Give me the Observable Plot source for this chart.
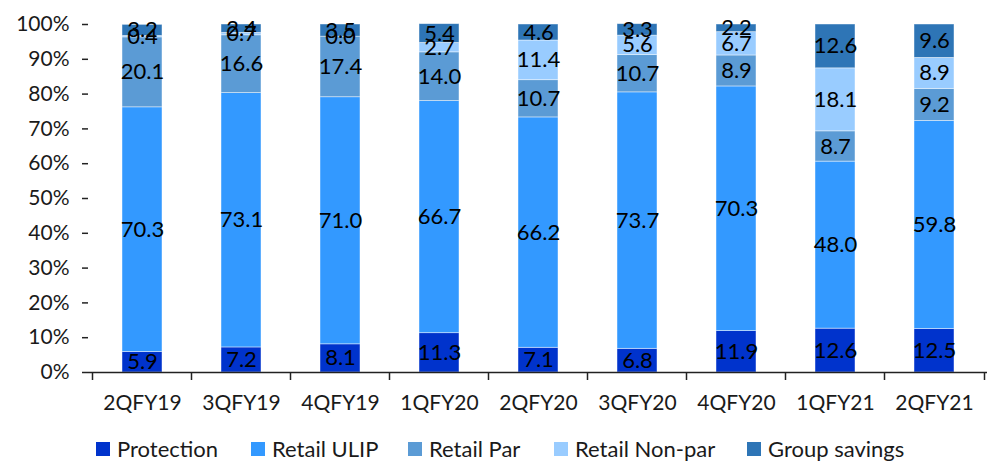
<!DOCTYPE html>
<html>
<head>
<meta charset="utf-8">
<script src="https://cdn.jsdelivr.net/npm/d3@7"></script>
<script src="https://cdn.jsdelivr.net/npm/@observablehq/plot@0.6"></script>
<style>
  body { margin: 0; background: #fff; font-family: Lato, "Open Sans", sans-serif; }
  #chart svg { display: block; }
  .legend { display: flex; margin: 11px 0 0 96px; font-size: 22px; color: #1a1a1a; line-height: 26px; }
  .legend .item { display: flex; align-items: center; }
  .legend .sw { width: 14px; height: 14px; margin-right: 7px; }
</style>
</head>
<body>
<div id="chart"></div>
<div class="legend" id="legend"></div>
<script>
// Quarterly product mix (% of APE)
const quarters = ["2QFY19", "3QFY19", "4QFY19", "1QFY20", "2QFY20", "3QFY20", "4QFY20", "1QFY21", "2QFY21"];
const seriesNames = ["Protection", "Retail ULIP", "Retail Par", "Retail Non-par", "Group savings"];
const protection   = [5.9, 7.2, 8.1, 11.3, 7.1, 6.8, 11.9, 12.6, 12.5];
const retailUlip   = [70.3, 73.1, 71.0, 66.7, 66.2, 73.7, 70.3, 48.0, 59.8];
const retailPar    = [20.1, 16.6, 17.4, 14.0, 10.7, 10.7, 8.9, 8.7, 9.2];
const retailNonPar = [0.4, 0.7, 0.0, 2.7, 11.4, 5.6, 6.7, 18.1, 8.9];
const groupSavings = [3.2, 2.4, 3.5, 5.4, 4.6, 3.3, 2.2, 12.6, 9.6];
const yTicks = [0, 10, 20, 30, 40, 50, 60, 70, 80, 90, 100];
const colors = ["#0033CC", "#3399FF", "#5B9BD5", "#99CCFF", "#2E75B6"];

const seriesValues = [protection, retailUlip, retailPar, retailNonPar, groupSavings];
const rows = seriesNames.flatMap((name, s) =>
  quarters.map((q, i) => ({quarter: q, series: name, value: seriesValues[s][i]}))
);

const fmt = d3.format(".1f");
const font = "Lato, 'Open Sans', sans-serif";

const chart = Plot.plot({
  width: 995,
  height: 425,
  marginLeft: 88,
  marginRight: 8,
  marginTop: 24,
  marginBottom: 53,
  style: {fontFamily: font, fontSize: "20px", color: "#1a1a1a", background: "#fff"},
  x: {domain: quarters, paddingInner: 0.6, paddingOuter: 0.3, axis: null},
  y: {domain: [0, 100], axis: null},
  color: {domain: seriesNames, range: colors},
  marks: [
    Plot.barY(rows, Plot.stackY({
      x: "quarter", y: "value", z: "series", fill: "series",
      stroke: "white", strokeWidth: 0.8, strokeOpacity: 0.55
    })),
    Plot.text(rows, Plot.stackY({
      x: "quarter", y: "value", z: "series",
      text: d => fmt(d.value), fill: "#000", fontSize: 22
    })),
    // value axis
    Plot.axisY({ticks: yTicks, tickFormat: d => d + "%", tickSize: 6, tickPadding: 13,
      stroke: "#222", strokeWidth: 1.5, fontSize: 21, label: null}),
    Plot.ruleX([0], {x: () => 0, frameAnchor: "left", y1: 0, y2: 100, stroke: "#222", strokeWidth: 1.5}),
    // category axis
    Plot.ruleY([0], {stroke: "#222", strokeWidth: 1.5}),
    Plot.ruleX(quarters, {x: d => d, dx: -50, y1: 0, y2: 0, insetBottom: -8, stroke: "#222", strokeWidth: 1.5}),
    Plot.ruleX(quarters.slice(-1), {x: d => d, dx: 50, y1: 0, y2: 0, insetBottom: -8, stroke: "#222", strokeWidth: 1.5}),
    Plot.axisX({tickSize: 0, tickPadding: 23, fontSize: 21, label: null})
  ]
});
document.getElementById("chart").appendChild(chart);

// Legend row
const legend = d3.select("#legend");
const widths = [155, 157, 146, 193, 200];
seriesNames.forEach((name, i) => {
  const item = legend.append("div").attr("class", "item").style("width", widths[i] + "px");
  item.append("div").attr("class", "sw").style("background", colors[i]);
  item.append("span").text(name);
});
</script>
</body>
</html>
